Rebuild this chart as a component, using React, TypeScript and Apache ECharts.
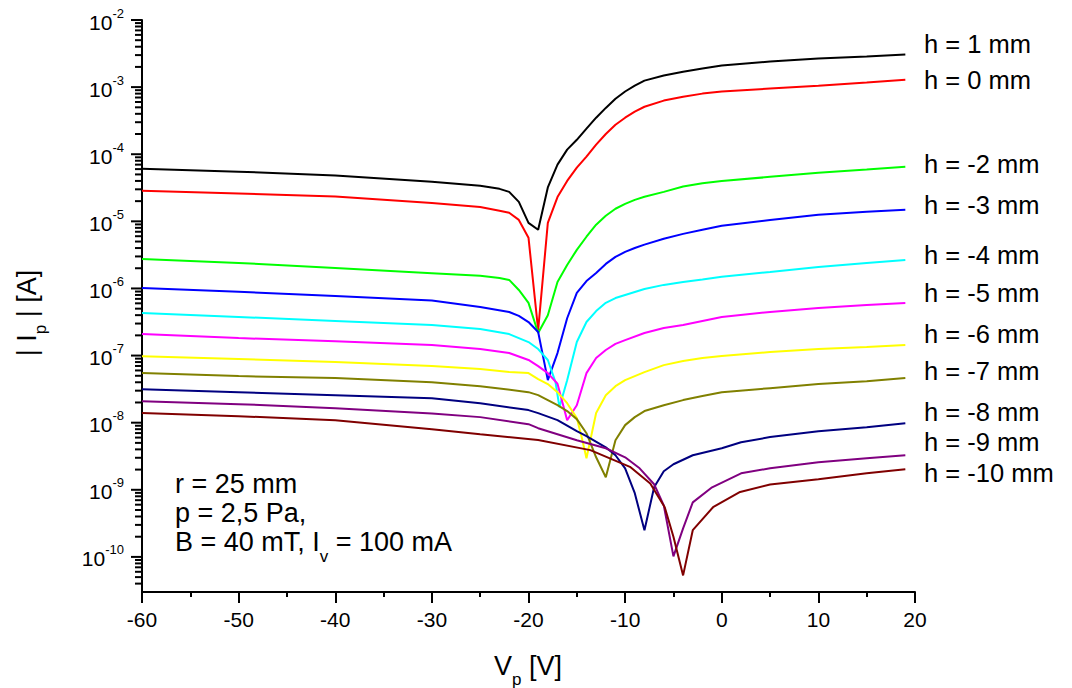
import React, { useEffect, useRef } from 'react';
import * as echarts from 'echarts';

const FONT = '"Liberation Sans", Arial, Helvetica, sans-serif';

// Probe current |Ip| [A] vs probe voltage Vp [V]
const curveH1 = [[-60,6.1e-5],[-50,5.5e-5],[-40,4.8e-5],[-30,3.9e-5],[-25,3.4e-5],[-23,3.05e-5],[-22,2.75e-5],[-21,1.95e-5],[-20,9.5e-6],[-19,7.5e-6],[-18,3.2e-5],[-17,7.0e-5],[-16,1.17e-4],[-15,1.64e-4],[-14,2.4e-4],[-13,3.5e-4],[-12,4.9e-4],[-11,6.7e-4],[-10,8.6e-4],[-9,1.05e-3],[-8,1.25e-3],[-6,1.49e-3],[-4,1.7e-3],[-2,1.89e-3],[0,2.1e-3],[5,2.4e-3],[10,2.66e-3],[15,2.85e-3],[19,3.06e-3]];
const curveH0 = [[-60,2.85e-5],[-50,2.6e-5],[-40,2.35e-5],[-30,1.87e-5],[-25,1.64e-5],[-23,1.44e-5],[-22,1.34e-5],[-21,1.05e-5],[-20,5.7e-6],[-19,2.4e-7],[-18,9.5e-6],[-17,2.3e-5],[-16,4.0e-5],[-15,6.3e-5],[-14,9.2e-5],[-13,1.39e-4],[-12,2.0e-4],[-11,2.75e-4],[-10,3.5e-4],[-9,4.3e-4],[-8,5.1e-4],[-6,6.3e-4],[-4,7.2e-4],[-2,8.0e-4],[0,8.6e-4],[5,9.5e-4],[10,1.05e-3],[15,1.17e-3],[19,1.29e-3]];
const curveHm2 = [[-60,2.75e-6],[-50,2.4e-6],[-40,2.02e-6],[-30,1.69e-6],[-25,1.54e-6],[-23,1.43e-6],[-22,1.34e-6],[-21,9.5e-7],[-20,6.1e-7],[-19,2.17e-7],[-18,4.0e-7],[-17,1.25e-6],[-16,2.24e-6],[-15,3.76e-6],[-14,5.9e-6],[-13,8.9e-6],[-12,1.21e-5],[-11,1.54e-5],[-10,1.82e-5],[-9,2.09e-5],[-8,2.32e-5],[-6,2.75e-5],[-4,3.3e-5],[-2,3.7e-5],[0,4.0e-5],[5,4.6e-5],[10,5.3e-5],[15,5.9e-5],[19,6.5e-5]];
const curveHm3 = [[-60,1.02e-6],[-50,8.9e-7],[-40,7.7e-7],[-30,6.6e-7],[-25,5.3e-7],[-22,4.46e-7],[-21,3.9e-7],[-20,3.16e-7],[-19,2.24e-7],[-18,4.3e-8],[-17,1.09e-7],[-16,3.6e-7],[-15,8.6e-7],[-14,1.29e-6],[-13,1.7e-6],[-12,2.32e-6],[-11,2.95e-6],[-10,3.5e-6],[-9,4.0e-6],[-8,4.5e-6],[-6,5.5e-6],[-4,6.5e-6],[-2,7.5e-6],[0,8.6e-6],[5,1.05e-5],[10,1.25e-5],[15,1.39e-5],[19,1.49e-5]];
const curveHm4 = [[-60,4.3e-7],[-50,3.76e-7],[-40,3.27e-7],[-30,2.85e-7],[-25,2.49e-7],[-22,2.09e-7],[-20,1.59e-7],[-19,1.25e-7],[-18,8.6e-8],[-17.2,4.0e-8],[-16.8,1.7e-8],[-16,4.3e-8],[-15,1.59e-7],[-14,3.16e-7],[-13,4.6e-7],[-12,6.1e-7],[-11,7.2e-7],[-10,8.0e-7],[-8,9.8e-7],[-6,1.13e-6],[-4,1.25e-6],[-2,1.36e-6],[0,1.49e-6],[5,1.76e-6],[10,2.09e-6],[15,2.4e-6],[19,2.66e-6]];
const curveHm5 = [[-60,2.09e-7],[-50,1.82e-7],[-40,1.64e-7],[-30,1.44e-7],[-25,1.25e-7],[-22,1.09e-7],[-20,8.6e-8],[-19,6.97e-8],[-18,5.48e-8],[-17,3.8e-8],[-16,1.09e-8],[-15,1.82e-8],[-14,5.48e-8],[-13,9.2e-8],[-12,1.21e-7],[-11,1.49e-7],[-10,1.7e-7],[-8,2.17e-7],[-6,2.57e-7],[-4,2.85e-7],[-2,3.27e-7],[0,3.76e-7],[5,4.46e-7],[10,5.12e-7],[15,5.67e-7],[19,6.08e-7]];
const curveHm6 = [[-60,9.8e-8],[-50,8.9e-8],[-40,8.0e-8],[-30,6.97e-8],[-25,6.3e-8],[-22,5.67e-8],[-20,5.48e-8],[-19,4.46e-8],[-18,3.76e-8],[-17,2.85e-8],[-16,1.95e-8],[-15,1.17e-8],[-14.5,6.1e-9],[-14,2.95e-9],[-13,1.39e-8],[-12,2.57e-8],[-11,3.5e-8],[-10,4.3e-8],[-8,5.67e-8],[-6,7.2e-8],[-4,8.28e-8],[-2,9.2e-8],[0,9.84e-8],[5,1.13e-7],[10,1.25e-7],[15,1.34e-7],[19,1.44e-7]];
const curveHm7 = [[-60,5.48e-8],[-50,4.94e-8],[-40,4.62e-8],[-30,4.02e-8],[-25,3.5e-8],[-20,2.85e-8],[-19,2.57e-8],[-17,1.82e-8],[-16,1.49e-8],[-15,1.13e-8],[-14,6.97e-9],[-13,3.05e-9],[-12,1.54e-9],[-11,5.48e-9],[-10,9.2e-9],[-9,1.21e-8],[-8,1.49e-8],[-6,1.82e-8],[-4,2.17e-8],[-2,2.49e-8],[0,2.85e-8],[5,3.27e-8],[10,3.76e-8],[15,4.16e-8],[19,4.62e-8]];
const curveHm8 = [[-60,3.16e-8],[-50,2.85e-8],[-40,2.57e-8],[-30,2.32e-8],[-25,1.95e-8],[-20,1.54e-8],[-19,1.39e-8],[-17,1.09e-8],[-15,7.46e-9],[-14,6.3e-9],[-12,4.3e-9],[-11,3.27e-9],[-10,2.09e-9],[-9,8.9e-10],[-8,2.49e-10],[-7,1.09e-9],[-6,1.89e-9],[-5,2.4e-9],[-3,3.27e-9],[0,4.16e-9],[2,5.1e-9],[5,6.1e-9],[10,7.46e-9],[15,8.57e-9],[19,9.84e-9]];
const curveHm9 = [[-60,2.09e-8],[-50,1.89e-8],[-40,1.64e-8],[-30,1.37e-8],[-25,1.21e-8],[-20,9.5e-9],[-19,8.28e-9],[-15,5.48e-9],[-12,4.16e-9],[-10,3.05e-9],[-8.5,2.09e-9],[-7,1.21e-9],[-6,5.87e-10],[-5,1.02e-10],[-4,2.66e-10],[-3,6.5e-10],[-1,1.09e-9],[2,1.76e-9],[5,2.09e-9],[10,2.57e-9],[15,2.95e-9],[19,3.27e-9]];
const curveHm10 = [[-60,1.39e-8],[-50,1.25e-8],[-40,1.09e-8],[-30,8.0e-9],[-25,6.7e-9],[-19,5.5e-9],[-13.6,3.9e-9],[-9.5,2.2e-9],[-7.4,1.24e-9],[-5.9,5.5e-10],[-5,2.0e-10],[-4,5.3e-11],[-3,2.5e-10],[-0.9,5.5e-10],[1.9,9.3e-10],[5,1.2e-9],[10,1.44e-9],[15,1.76e-9],[19,2.02e-9]];

const curveLabels = ['h = 1 mm','h = 0 mm','h = -2 mm','h = -3 mm','h = -4 mm','h = -5 mm','h = -6 mm','h = -7 mm','h = -8 mm','h = -9 mm','h = -10 mm'];
const curveColors = ['#000000','#ff0000','#00ff00','#0000ff','#00ffff','#ff00ff','#ffff00','#808000','#000080','#800080','#800000'];
const curveData = [curveH1, curveH0, curveHm2, curveHm3, curveHm4, curveHm5, curveHm6, curveHm7, curveHm8, curveHm9, curveHm10];

const xMin = -60;
const xMax = 20;
const xStep = 10;
const yMin = 3e-11;
const yMax = 1e-2;
const yMajorExponents = [-10, -9, -8, -7, -6, -5, -4, -3, -2];
const yMinorMultipliers = [2, 3, 4, 5, 6, 7, 8, 9];
const yMinorExponents = [-11, -10, -9, -8, -7, -6, -5, -4, -3];

const annotationLines = ['r = 25 mm', 'p = 2,5 Pa,', 'B = 40 mT, I{s|v} = 100 mA'];

// layout (pixels)
const LABEL_X = 924;
const LABEL_Y = [44, 80, 164, 205, 255, 293, 334, 371, 412, 442, 473];
const NOTE_X = 175;
const NOTE_Y = [484, 513, 542];

export default function App() {
  const ref = useRef<HTMLDivElement>(null);
  useEffect(() => {
    if (!ref.current) return;
    const chart = echarts.init(ref.current, null, { renderer: 'svg' });

    const majorVals = yMajorExponents.map((e) => Math.pow(10, e));
    const minorVals: number[] = [];
    yMinorExponents.forEach((e) => yMinorMultipliers.forEach((m) => {
      const v = m * Math.pow(10, e);
      if (v > yMin && v < yMax) minorVals.push(v);
    }));

    const tickSeries = (vals: number[], len: number) => ({
      type: 'custom',
      silent: true,
      clip: false,
      z: 20,
      data: vals.map((v) => [xMin, v]),
      renderItem: (params: any, api: any) => {
        const p = api.coord([api.value(0), api.value(1)]);
        return {
          type: 'line',
          shape: { x1: p[0] - len, y1: p[1], x2: p[0], y2: p[1] },
          style: { stroke: '#000', lineWidth: 2 },
        };
      },
    });

    const txt = { fontFamily: FONT, fill: '#000' };

    const graphics: any[] = [];
    curveLabels.forEach((t, i) => {
      graphics.push({
        type: 'text', x: LABEL_X, y: LABEL_Y[i], silent: true,
        style: { ...txt, text: t, fontSize: 25.5, lineHeight: 25, align: 'left', verticalAlign: 'middle' },
      });
    });
    annotationLines.forEach((t, i) => {
      graphics.push({
        type: 'text', x: NOTE_X, y: NOTE_Y[i], silent: true,
        style: {
          ...txt, text: t, fontSize: 27, align: 'left', verticalAlign: 'middle',
          rich: { s: { fontFamily: FONT, fill: '#000', fontSize: 17, padding: [28, 0, 0, 0] } },
        },
      });
    });
    graphics.push({
      type: 'text', x: 528, y: 666, silent: true,
      style: {
        ...txt, text: 'V{s|p} [V]', fontSize: 27, align: 'center', verticalAlign: 'middle',
        rich: { s: { fontFamily: FONT, fill: '#000', fontSize: 17, padding: [26, 0, 0, 0] } },
      },
    });
    graphics.push({
      type: 'text', x: 27, y: 313, rotation: Math.PI / 2, silent: true,
      style: {
        ...txt, text: '| I{s|p} | [A]', fontSize: 27, align: 'center', verticalAlign: 'middle',
        rich: { s: { fontFamily: FONT, fill: '#000', fontSize: 17, padding: [26, 0, 0, 0] } },
      },
    });

    chart.setOption({
      animation: false,
      backgroundColor: '#ffffff',
      grid: { left: 142, right: 157, top: 20, bottom: 96, containLabel: false },
      xAxis: {
        type: 'value', min: xMin, max: xMax, interval: xStep,
        axisLine: { show: true, onZero: false, lineStyle: { color: '#000', width: 2 } },
        axisTick: { show: true, length: 11, lineStyle: { color: '#000', width: 2 } },
        minorTick: { show: true, splitNumber: 2, length: 5, lineStyle: { color: '#000', width: 2 } },
        splitLine: { show: false },
        axisLabel: { color: '#000', fontSize: 21, fontFamily: FONT, margin: 17 },
      },
      yAxis: {
        type: 'log', logBase: 10, min: yMin, max: yMax,
        axisLine: { show: true, onZero: false, lineStyle: { color: '#000', width: 2 } },
        axisTick: { show: false },
        minorTick: { show: false },
        splitLine: { show: false },
        axisLabel: {
          margin: 18,
          fontSize: 21,
          fontFamily: FONT,
          color: '#000',
          formatter: (v: number) => {
            const e = Math.log10(v);
            const r = Math.round(e);
            if (Math.abs(e - r) > 1e-3) return '';
            return `{b|10}{s|${r}}`;
          },
          rich: {
            b: { fontSize: 21, fontFamily: FONT, color: '#000', padding: [4, 0, 0, 0] },
            s: { fontSize: 13, fontFamily: FONT, color: '#000', padding: [0, 0, 14, 0] },
          },
        },
      },
      series: [
        ...curveData.map((d, i) => ({
          type: 'line',
          name: curveLabels[i],
          data: d,
          symbol: 'none',
          showSymbol: false,
          lineStyle: { color: curveColors[i], width: 2 },
          itemStyle: { color: curveColors[i] },
          emphasis: { disabled: true },
          z: 2 + i,
        })),
        tickSeries(majorVals, 11),
        tickSeries(minorVals, 7),
      ],
      graphic: graphics,
    });

    return () => chart.dispose();
  }, []);

  return <div ref={ref} style={{ position: 'absolute', left: 0, top: 0, width: 1072, height: 688 }} />;
}
